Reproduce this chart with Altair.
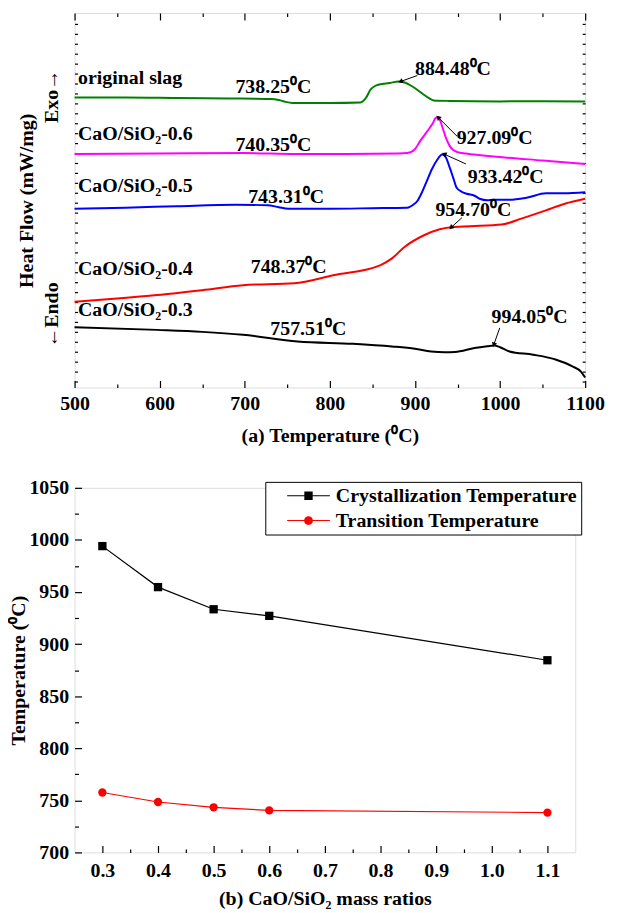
import altair as alt
import pandas as pd

FONT = "Liberation Serif"

# ---------------- panel (a): DSC curves (heat flow, arbitrary stacked units) -------------
T_orig = [500, 560, 620, 680, 730, 740, 748, 756, 800, 836, 842, 848, 853, 858, 870, 881, 888, 895, 903, 910, 916, 922, 940, 1000, 1050, 1100]
HF_orig = [29.2, 29.2, 29.15, 29.1, 29.05, 28.95, 28.75, 28.65, 28.65, 28.7, 29.1, 30.0, 30.35, 30.5, 30.65, 30.8, 30.7, 30.4, 29.95, 29.5, 29.15, 28.9, 28.85, 28.8, 28.82, 28.78]

T_06 = [500, 600, 700, 760, 820, 880, 891, 900, 906, 912, 917, 921, 924, 927, 930, 933, 937, 941, 945, 950, 960, 1000, 1050, 1100]
HF_06 = [23.5, 23.55, 23.6, 23.5, 23.5, 23.55, 23.6, 24.0, 24.8, 25.5, 26.1, 26.6, 27.1, 27.2, 26.8, 26.0, 25.0, 24.3, 23.9, 23.7, 23.55, 23.2, 22.85, 22.5]

T_05 = [500, 560, 620, 689, 727, 740, 751, 800, 850, 891, 898, 903, 908, 914, 920, 926, 932, 936, 941, 945, 949, 955, 961, 970, 976, 985, 992, 1011, 1031, 1054, 1075, 1100]
HF_05 = [18.0, 18.1, 18.25, 18.4, 18.35, 18.15, 18.0, 18.0, 18.05, 18.1, 18.4, 18.8, 19.6, 20.8, 22.0, 22.9, 23.45, 23.2, 22.1, 21.1, 20.1, 19.7, 19.5, 19.3, 19.0, 18.85, 18.9, 18.9, 19.1, 19.55, 19.55, 19.65]

T_04 = [500, 550, 597, 650, 698, 758, 804, 859, 873, 887, 910, 928, 942, 965, 1002, 1025, 1053, 1076, 1100]
HF_04 = [8.63, 8.95, 9.3, 9.8, 10.3, 10.5, 11.3, 12.3, 13.0, 14.1, 15.3, 15.9, 16.13, 16.23, 16.4, 17.0, 17.8, 18.5, 19.0]

T_03 = [500, 597, 650, 698, 762, 827, 873, 900, 919, 935, 947, 970, 985, 993, 1000, 1011, 1039, 1066, 1085, 1095, 1100]
HF_03 = [6.07, 5.8, 5.6, 5.3, 4.63, 4.4, 4.13, 3.9, 3.63, 3.55, 3.57, 3.97, 4.15, 4.23, 4.05, 3.63, 3.3, 2.8, 2.13, 1.6, 1.0]

samples = ["original slag", "CaO/SiO₂-0.6", "CaO/SiO₂-0.5", "CaO/SiO₂-0.4", "CaO/SiO₂-0.3"]
sample_colors = ["#008000", "#ff00ff", "#0000ff", "#ff0000", "#000000"]
curves = [(T_orig, HF_orig), (T_06, HF_06), (T_05, HF_05), (T_04, HF_04), (T_03, HF_03)]

# sample-name labels (left edge, baseline) in data units
name_T = [504, 504, 504, 504, 504]
name_HF = [30.6, 24.9, 19.7, 11.3, 7.2]

# temperature annotations
ann_text = ["738.25⁰C", "884.48⁰C", "740.35⁰C", "927.09⁰C", "743.31⁰C", "933.42⁰C",
            "954.70⁰C", "748.37⁰C", "757.51⁰C", "994.05⁰C"]
ann_T = [689, 900, 689, 949, 704, 962, 924, 707, 730, 990]
ann_HF = [29.65, 31.5, 23.8, 24.5, 18.6, 20.6, 17.3, 11.5, 5.3, 6.5]

# arrows: tail -> head
arr_T1 = [902.7, 949.4, 959.9, 955.2, 999.6]
arr_HF1 = [31.4, 25.3, 22.5, 17.1, 6.0]
arr_T2 = [882.9, 927.2, 934.2, 942.4, 992.6]
arr_HF2 = [30.8, 27.2, 23.5, 16.1, 4.3]
arr_angle = [250.6, 315, 294.4, 228, 199.4]

# Exo / Endo side labels
side_text = ["Exo→", "←Endo"]
side_T = [473, 473]
side_HF = [29.3, 7.3]

x_major_a = [500, 600, 700, 800, 900, 1000, 1100]
x_minor_a = [550, 650, 750, 850, 950, 1050]
y_ticks_a = [0.6 + i for i in range(37)]

# ---------------- panel (b) -------------
ratio = [0.3, 0.4, 0.5, 0.6, 1.1]
cryst = [994.05, 954.70, 933.42, 927.09, 884.48]
trans = [757.51, 748.37, 743.31, 740.35, 738.25]
series = ["Crystallization Temperature", "Transition Temperature"]
series_colors = ["#000000", "#ff0000"]
x_major_b = [0.3, 0.4, 0.5, 0.6, 0.7, 0.8, 0.9, 1.0, 1.1]
x_minor_b = [0.35, 0.45, 0.55, 0.65, 0.75, 0.85, 0.95, 1.05]
y_major_b = [700, 750, 800, 850, 900, 950, 1000, 1050]
y_minor_b = [725, 775, 825, 875, 925, 975, 1025]

# ---------------- build tables -------------
rows = []
for s, (tt, hh) in zip(samples, curves):
    for i, (t, h) in enumerate(zip(tt, hh)):
        rows.append({"T": t, "HF": h, "sample": s, "i": i})
df_a = pd.DataFrame(rows)
df_names = pd.DataFrame({"T": name_T, "HF": name_HF, "label": samples})
df_ann = pd.DataFrame({"T": ann_T, "HF": ann_HF, "label": ann_text})
df_arr = pd.DataFrame({"T": arr_T1, "HF": arr_HF1, "T2": arr_T2, "HF2": arr_HF2, "angle": arr_angle})
df_side = pd.DataFrame({"T": side_T, "HF": side_HF, "label": side_text})

xs_a = alt.Scale(domain=[500, 1100], nice=False, zero=False)
ys_a = alt.Scale(domain=[0, 37.7], nice=False, zero=False)
LBL = dict(labelFont=FONT, labelFontWeight="bold", labelFontSize=20, labelColor="black",
           titleFont=FONT, titleFontWeight="bold", titleFontSize=20, titleColor="black")

def ax(**kw):
    base = dict(domain=False, grid=False, tickColor="black", tickWidth=1.2)
    base.update(kw)
    return alt.Axis(**base)

base_a = alt.Chart(df_a)
color_a = alt.Color("sample:N", scale=alt.Scale(domain=samples, range=sample_colors), legend=None)

curves_layer = base_a.mark_line(strokeWidth=2, interpolate="monotone").encode(
    x=alt.X("T:Q", scale=xs_a, axis=ax(orient="bottom", values=x_major_a, format="d", offset=-7, tickSize=7,
                                     labelPadding=6, labelFlush=False, title="(a) Temperature (⁰C)",
                                     titlePadding=12, **LBL)),
    y=alt.Y("HF:Q", scale=ys_a, axis=ax(orient="left", values=y_ticks_a, offset=-3, tickSize=3,
                                      labels=False, title="Heat Flow (mW/mg)", titlePadding=38, **LBL)),
    color=color_a, detail="sample:N", order="i:Q")

minor_a = base_a.mark_line(opacity=0).encode(
    x=alt.X("T:Q", scale=xs_a, axis=ax(orient="bottom", values=x_minor_a, offset=-3.5, tickSize=3.5,
                                     labels=False, title=None)),
    y=alt.Y("HF:Q", scale=ys_a, axis=ax(orient="right", values=y_ticks_a, offset=-3, tickSize=3,
                                      labels=False, title=None)),
    detail="sample:N")

top_major = base_a.mark_line(opacity=0).encode(
    x=alt.X("T:Q", scale=xs_a, axis=ax(orient="top", values=x_major_a, offset=-7, tickSize=7,
                                     labels=False, title=None)),
    y=alt.Y("HF:Q", scale=ys_a, axis=None), detail="sample:N")

top_minor = base_a.mark_line(opacity=0).encode(
    x=alt.X("T:Q", scale=xs_a, axis=ax(orient="top", values=x_minor_a, offset=-3.5, tickSize=3.5,
                                     labels=False, title=None)),
    y=alt.Y("HF:Q", scale=ys_a, axis=None), detail="sample:N")

names = alt.Chart(df_names).mark_text(align="left", baseline="alphabetic", font=FONT, fontWeight="bold",
                                      fontSize=20, color="black").encode(
    x=alt.X("T:Q", scale=xs_a, axis=None), y=alt.Y("HF:Q", scale=ys_a, axis=None), text="label:N")

anns = alt.Chart(df_ann).mark_text(align="left", baseline="alphabetic", font=FONT, fontWeight="bold",
                                   fontSize=20, color="black").encode(
    x=alt.X("T:Q", scale=xs_a, axis=None), y=alt.Y("HF:Q", scale=ys_a, axis=None), text="label:N")

arrows = alt.Chart(df_arr).mark_rule(color="black", strokeWidth=1).encode(
    x=alt.X("T:Q", scale=xs_a, axis=None), y=alt.Y("HF:Q", scale=ys_a, axis=None),
    x2="T2:Q", y2="HF2:Q")

heads = alt.Chart(df_arr).mark_point(shape="triangle-up", filled=True, color="black", size=30, opacity=1).encode(
    x=alt.X("T2:Q", scale=xs_a, axis=None), y=alt.Y("HF2:Q", scale=ys_a, axis=None),
    angle=alt.Angle("angle:Q", scale=None))

side = alt.Chart(df_side).mark_text(align="center", baseline="middle", angle=270, font=FONT,
                                    fontWeight="bold", fontSize=20, color="black").encode(
    x=alt.X("T:Q", scale=xs_a, axis=None), y=alt.Y("HF:Q", scale=ys_a, axis=None), text="label:N")

top = alt.layer(curves_layer, minor_a, top_major, top_minor, names, anns, arrows, heads, side).resolve_axis(
    x="independent", y="independent").properties(width=514, height=377)

# ---------------- panel (b) -------------
rows_b = []
for r, c in zip(ratio, cryst):
    rows_b.append({"ratio": r, "temp": c, "series": series[0]})
for r, t in zip(ratio, trans):
    rows_b.append({"ratio": r, "temp": t, "series": series[1]})
df_b = pd.DataFrame(rows_b)

xs_b = alt.Scale(domain=[0.25, 1.15], nice=False, zero=False)
ys_b = alt.Scale(domain=[700, 1050], nice=False, zero=False)
base_b = alt.Chart(df_b)

line_b = base_b.mark_line(strokeWidth=1.2).encode(
    x=alt.X("ratio:Q", scale=xs_b, axis=ax(orient="bottom", values=x_major_b, format=".1f", offset=-7,
                                         tickSize=7, labelPadding=8, labelFlush=False,
                                         title="(b) CaO/SiO₂ mass ratios", titlePadding=8, **LBL)),
    y=alt.Y("temp:Q", scale=ys_b, axis=ax(orient="left", values=y_major_b, format="d", offset=-7, tickSize=7,
                                        labelPadding=6, labelFlush=False, title="Temperature (⁰C)",
                                        titlePadding=0, **LBL)),
    color=alt.Color("series:N", scale=alt.Scale(domain=series, range=series_colors), legend=None))

pts_b = base_b.mark_point(filled=True, opacity=1, size=70).encode(
    x=alt.X("ratio:Q", scale=xs_b, axis=ax(orient="bottom", values=x_minor_b, offset=-3.5, tickSize=3.5,
                                         labels=False, title=None)),
    y=alt.Y("temp:Q", scale=ys_b, axis=ax(orient="left", values=y_minor_b, offset=-4, tickSize=4,
                                        labels=False, title=None)),
    color=alt.Color("series:N", scale=alt.Scale(domain=series, range=series_colors), legend=None),
    shape=alt.Shape("series:N", scale=alt.Scale(domain=series, range=["square", "circle"]), legend=None))

# legend glyphs: short line with marker (nominal symbol box 20px, line drawn 43px wide)
sym_sq = "M-2.15,-0.05H2.15V0.05H-2.15Z M-0.42,-0.42H0.42V0.42H-0.42Z"
sym_ci = "M-2.15,-0.05H2.15V0.05H-2.15Z M0.45,0A0.45,0.45 0 1,1 -0.45,0A0.45,0.45 0 1,1 0.45,0Z"
leg = alt.Legend(title=None, orient="top-right", offset=-6, strokeColor="black", fillColor="white",
                 padding=4, symbolOffset=29.5, rowPadding=5, labelFont=FONT, labelFontWeight="bold",
                 labelFontSize=20, labelColor="black", symbolSize=400, labelOffset=17.5,
                 symbolStrokeWidth=0, labelLimit=500)
legend_b = base_b.transform_filter("false").mark_point(filled=True, opacity=1).encode(
    x=alt.X("ratio:Q", scale=xs_b, axis=None), y=alt.Y("temp:Q", scale=ys_b, axis=None),
    color=alt.Color("series:N", scale=alt.Scale(domain=series, range=series_colors), legend=leg),
    shape=alt.Shape("series:N", scale=alt.Scale(domain=series, range=[sym_sq, sym_ci]), legend=leg))

bottom = alt.layer(line_b, pts_b, legend_b).resolve_scale(color="independent", shape="independent").resolve_axis(
    x="independent", y="independent").properties(width=504, height=367)

chart = alt.vconcat(top, bottom, spacing=31).properties(
    padding={"top": 0, "left": 0, "right": 5, "bottom": 5}
).configure_view(stroke="black", strokeWidth=1.5).configure(background="white")

chart.save("out.html", embed_options={"renderer": "svg", "actions": False})
